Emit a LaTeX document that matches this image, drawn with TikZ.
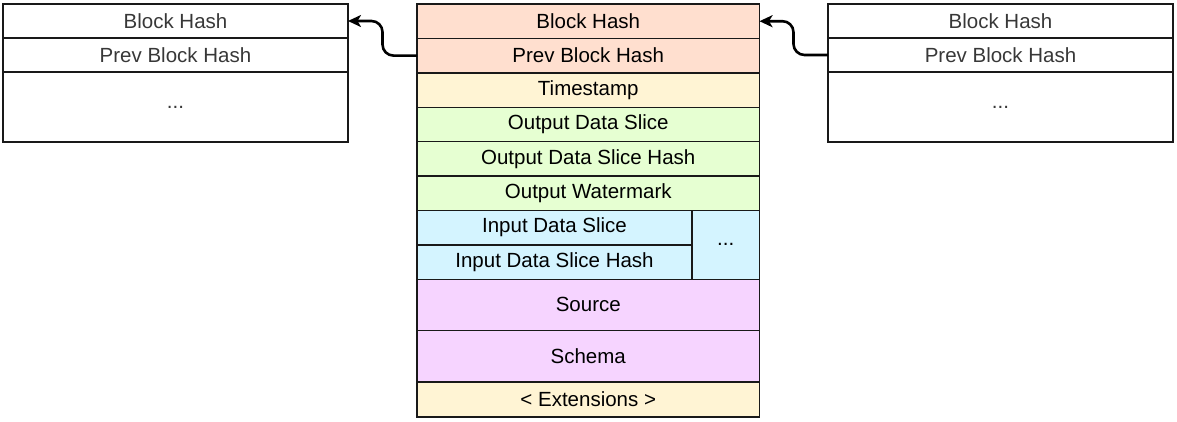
\documentclass[tikz,border=0pt]{standalone}
\usepackage{fontspec}
\setmainfont{Liberation Sans}
\usetikzlibrary{arrows.meta}
\definecolor{hashfill}{HTML}{FFDFCF}
\definecolor{metafill}{HTML}{FFF4D4}
\definecolor{outfill}{HTML}{E6FFD2}
\definecolor{infill}{HTML}{D4F4FF}
\definecolor{srcfill}{HTML}{F6D4FF}

\begin{document}
\begin{tikzpicture}[x=1pt,y=-1pt,
    cell/.style={draw=black!90, line width=1.4pt, rectangle, anchor=north west,
      inner sep=0pt, outer sep=0pt, minimum width=#1, minimum height=34.4pt,
      font=\fontsize{20.5}{24}\selectfont},
    cell/.default=342.5pt,
    side/.style={cell=345pt, minimum height=34pt, text=black!78},
    chain/.style={draw=black, line width=2.6pt, rounded corners=11pt,
      -{Stealth[length=13pt,width=12pt,inset=3.5pt]}}]
    \useasboundingbox (0,0) rectangle (1177,421);
    % current block
    \node[cell, fill=hashfill] (bh)   at (417,   4) {Block Hash};
    \node[cell, fill=hashfill] (pbh)  at (417,  38.4) {Prev Block Hash};
    \node[cell, fill=metafill] (ts)   at (417,  72.8) {Timestamp};
    \node[cell, fill=outfill]  (ods)  at (417, 107.2) {Output Data Slice};
    \node[cell, fill=outfill]  (odsh) at (417, 141.6) {Output Data Slice Hash};
    \node[cell, fill=outfill]  (ow)   at (417, 176) {Output Watermark};
    \node[cell=275pt, fill=infill] (ids)  at (417, 210.4) {Input Data Slice};
    \node[cell=275pt, fill=infill] (idsh) at (417, 244.8) {Input Data Slice Hash};
    \node[cell=67.5pt, minimum height=68.8pt, fill=infill] (more) at (692, 210.4) {...};
    \node[cell, minimum height=51.3pt, fill=srcfill] (src) at (417, 279.2) {Source};
    \node[cell, minimum height=51.5pt, fill=srcfill] (sch) at (417, 330.5) {Schema};
    \node[cell, minimum height=35pt, fill=metafill] (ext) at (417, 382) {< Extensions >};
    % previous block
    \node[side] (lbh)  at (3,  4) {Block Hash};
    \node[side] (lpbh) at (3, 38) {Prev Block Hash};
    \node[side, minimum height=70pt] (lrest) at (3, 72) {...};
    % next block
    \node[side] (rbh)  at (828,  4) {Block Hash};
    \node[side] (rpbh) at (828, 38) {Prev Block Hash};
    \node[side, minimum height=70pt] (rrest) at (828, 72) {...};
    % hash links
    \draw[chain] (pbh.west) -- ++(-34.5,0) |- (lbh.east);
    \draw[chain] (rpbh.west) -- ++(-34.5,0) |- (bh.east);
  \end{tikzpicture}
\end{document}
